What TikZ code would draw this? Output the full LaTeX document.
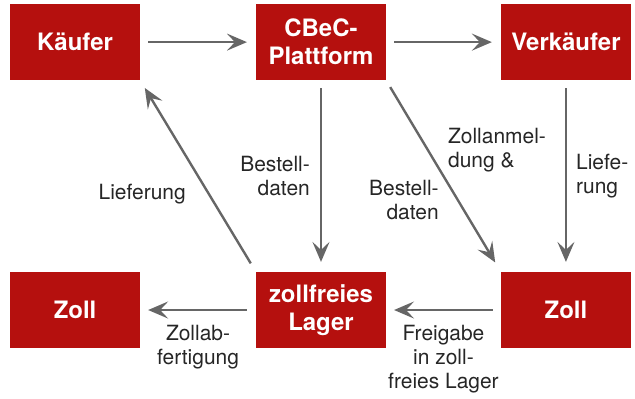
\documentclass[tikz,border=0pt]{standalone}
\usepackage{fontspec}
\setmainfont{TeX Gyre Heros}
\usepackage{tikz}
\usetikzlibrary{arrows.meta,positioning,calc}
\definecolor{boxred}{HTML}{B5100E}
\definecolor{arrgray}{HTML}{666666}

\begin{document}
\begin{tikzpicture}[
  node distance=192pt and 116pt,
  box/.style ={rectangle,fill=boxred,text=white,inner sep=0pt,
               minimum width=130pt,minimum height=76pt,align=center,
               font=\fontsize{24}{28}\selectfont\bfseries},
  lbl/.style ={inner sep=0pt,text=black!85,font=\fontsize{21}{24}\selectfont},
  arrow/.style={-{Stealth[length=20pt,width=17pt,inset=8pt]},line width=2.4pt,draw=arrgray},
]
\node[box] (kaeufer) {Käufer};
\node[box, right=of kaeufer] (plattform) {CBeC-\\Plattform};
\node[box, right=115pt of plattform] (verkaeufer) {Verkäufer};
\node[box, below=of kaeufer] (zollL) {Zoll};
\node[box, below=of plattform] (lager) {zollfreies\\Lager};
\node[box, below=of verkaeufer] (zollR) {Zoll};
\useasboundingbox ($(kaeufer.north west)+(-10pt,4pt)$) rectangle ($(zollR.south east)+(4pt,-50pt)$);
% obere Reihe
\draw[arrow,shorten <=8pt,shorten >=9pt](kaeufer.east)--(plattform.west);
\draw[arrow,shorten <=8pt,shorten >=9pt](plattform.east)--(verkaeufer.west);
% nach unten
\draw[arrow,shorten <=8pt,shorten >=10pt](plattform.south)--
  node[lbl,pos=0.5,left=10pt,align=right]{Bestell-\\daten}(lager.north);
\draw[arrow,shorten <=8pt,shorten >=11pt](plattform.south east)--
  node[lbl,pos=0.365,right=19pt,align=left]{Zollanmel-\\dung \&}
  node[lbl,pos=0.625,left=18pt,align=right]{Bestell-\\daten}(zollR.north west);
\draw[arrow,shorten <=8pt,shorten >=10pt](verkaeufer.south)--
  node[lbl,pos=0.5,right=9pt,align=left]{Liefe-\\rung}(zollR.north);
\draw[arrow,shorten <=10pt,shorten >=9pt](lager.north west)--
  node[lbl,pos=0.406,left=22pt,align=right]{Lieferung}(kaeufer.south east);
% untere Reihe
\draw[arrow,shorten <=8pt,shorten >=8pt](zollR.west)--
  node[lbl,pos=0.5,below=14pt,align=center]{Freigabe\\in zoll-\\freies Lager}(lager.east);
\draw[arrow,shorten <=9pt,shorten >=8pt](lager.west)--
  node[lbl,pos=0.5,below=14pt,align=center]{Zollab-\\fertigung}(zollL.east);
\end{tikzpicture}
\end{document}
